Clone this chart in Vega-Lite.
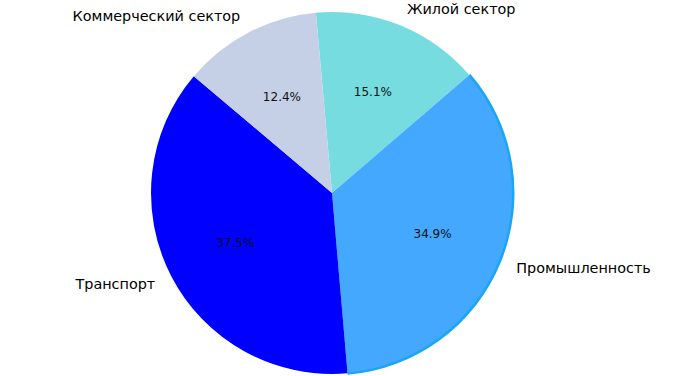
{
  "$schema": "https://vega.github.io/schema/vega-lite/v6.json",
  "autosize": "none",
  "width": 664,
  "height": 366,
  "padding": {"left": 0, "top": 10, "right": 12, "bottom": 0},
  "background": "white",
  "config": {"view": {"stroke": null}},
  "data": {"values": [
    {"k": 1, "cat": "Жилой сектор", "v": 0.151},
    {"k": 2, "cat": "Промышленность", "v": 0.349},
    {"k": 3, "cat": "Транспорт", "v": 0.375},
    {"k": 4, "cat": "Коммерческий сектор", "v": 0.124}
  ]},
  "encoding": {
    "theta": {"field": "v", "type": "quantitative", "stack": true, "scale": {"range": [-0.089, 6.194]}},
    "order": {"field": "k", "type": "quantitative"}
  },
  "layer": [
    {
      "mark": {"type": "arc", "outerRadius": 181},
      "encoding": {
        "color": {"field": "cat", "type": "nominal", "legend": null,
          "scale": {"domain": ["Жилой сектор", "Промышленность", "Транспорт", "Коммерческий сектор"],
                    "range": ["#76dce0", "#44a8ff", "#0000ff", "#c5cfe6"]}}
      }
    },
    {
      "mark": {"type": "arc", "innerRadius": 180, "outerRadius": 182.5},
      "encoding": {
        "fill": {"condition": {"test": "datum.cat === 'Промышленность'", "value": "#1aa6f5"}, "value": "transparent"}
      }
    },
    {
      "mark": {"type": "text", "radius": 108.6, "font": "DejaVu Sans", "fontSize": 12, "color": "#111"},
      "encoding": {"text": {"field": "v", "type": "quantitative", "format": ".1%"}}
    },
    {
      "mark": {"type": "text", "radius": 199, "dy": 1, "font": "DejaVu Sans", "fontSize": 14.4, "color": "#000",
        "align": {"expr": "(datum.cat === 'Промышленность' || datum.cat === 'Жилой сектор') ? 'left' : 'right'"}},
      "encoding": {"text": {"field": "cat", "type": "nominal"}}
    }
  ]
}
